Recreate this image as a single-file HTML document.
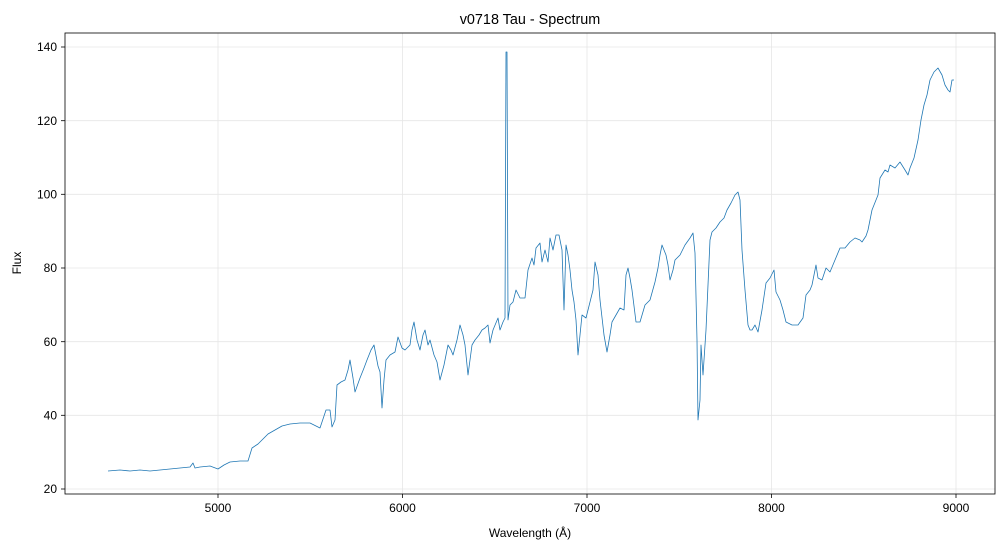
<!DOCTYPE html>
<html><head><meta charset="utf-8"><style>body{margin:0;background:#fff}svg{display:block}text{font-family:"Liberation Sans","DejaVu Sans",sans-serif;fill:#000}</style></head><body>
<svg width="1005" height="549" viewBox="0 0 1005 549" xmlns="http://www.w3.org/2000/svg">
<rect width="1005" height="549" fill="#fff"/>
<g stroke="#e6e6e6" stroke-width="0.8">
<line x1="218" y1="33" x2="218" y2="494"/><line x1="402.5" y1="33" x2="402.5" y2="494"/><line x1="587" y1="33" x2="587" y2="494"/><line x1="771.5" y1="33" x2="771.5" y2="494"/><line x1="956" y1="33" x2="956" y2="494"/>
<line x1="65" y1="489" x2="995" y2="489"/><line x1="65" y1="415.3" x2="995" y2="415.3"/><line x1="65" y1="341.7" x2="995" y2="341.7"/><line x1="65" y1="268" x2="995" y2="268"/><line x1="65" y1="194.3" x2="995" y2="194.3"/><line x1="65" y1="120.7" x2="995" y2="120.7"/><line x1="65" y1="47" x2="995" y2="47"/>
</g>
<polyline fill="none" stroke="#1f77b4" stroke-width="0.8" stroke-linejoin="round" points="108,471 120,470 130,471 140,470 150,471 160,470 170,469 180,468 190,467 193,463 195,468 200,467 210,466 218,469 224,465 230,462 240,461 248,461 252,448 258,444 262,440 268,434 275,430 282,426 290,424 300,423 310,423 316,426 320,428 326,410 330,410 332,427 335,420 337,385 341,382 345,380 348,370 350,360 353,378 355,392 360,378 364,368 367,360 371,350 374,345 378,366 380,372 382,408 384,380 386,360 390,355 395,352 398,337 402,348 405,350 410,345 412,330 414,322 417,340 420,350 423,335 425,330 428,345 430,340 434,355 437,362 440,380 444,365 448,345 451,350 453,355 457,340 460,325 463,335 465,345 468,375 470,360 472,345 475,340 479,335 482,330 485,328 488,325 490,343 493,330 498,318 500,330 503,322 505,318 506,52 507,52 508,320 510,305 513,302 516,290 520,298 525,298 528,270 532,258 534,265 536,248 540,243 542,262 545,250 548,262 550,238 553,250 556,235 559,235 562,250 564,310 566,245 568,255 570,270 572,290 574,302 576,320 578,355 580,335 582,315 586,318 590,302 593,290 595,262 598,275 600,300 604,335 607,352 610,335 612,322 616,315 620,308 624,310 626,275 628,268 630,278 632,290 636,322 640,322 645,305 650,300 655,282 658,268 660,255 662,245 666,255 668,265 670,280 673,270 675,260 680,255 685,245 690,238 693,233 695,253 697,340 698,420 700,400 701,345 703,375 706,330 710,240 712,232 716,228 720,222 724,218 727,210 731,203 735,195 738,192 740,200 742,250 745,290 748,325 750,330 752,330 755,325 758,332 762,310 766,283 770,278 774,270 776,292 780,300 783,310 786,322 792,325 798,325 803,318 806,295 810,290 812,285 816,265 818,278 822,280 826,268 830,272 835,260 840,248 845,248 850,242 855,238 860,240 862,242 866,236 868,230 872,210 876,200 878,195 880,178 885,170 888,172 890,165 895,168 900,162 905,170 908,175 910,168 914,158 918,140 921,120 924,105 927,95 930,80 934,72 938,68 942,75 945,85 948,90 950,92 952,80 954,80"/>
<rect x="65" y="33" width="930" height="461" fill="none" stroke="#000" stroke-width="0.8"/>
<g stroke="#000" stroke-width="0.8">
<line x1="218" y1="494" x2="218" y2="498"/><line x1="402.5" y1="494" x2="402.5" y2="498"/><line x1="587" y1="494" x2="587" y2="498"/><line x1="771.5" y1="494" x2="771.5" y2="498"/><line x1="956" y1="494" x2="956" y2="498"/>
<line x1="61" y1="489" x2="65" y2="489"/><line x1="61" y1="415.3" x2="65" y2="415.3"/><line x1="61" y1="341.7" x2="65" y2="341.7"/><line x1="61" y1="268" x2="65" y2="268"/><line x1="61" y1="194.3" x2="65" y2="194.3"/><line x1="61" y1="120.7" x2="65" y2="120.7"/><line x1="61" y1="47" x2="65" y2="47"/>
</g>
<g font-size="12" text-anchor="middle">
<text x="218" y="512">5000</text><text x="402.5" y="512">6000</text><text x="587" y="512">7000</text><text x="771.5" y="512">8000</text><text x="956" y="512">9000</text>
</g>
<g font-size="12" text-anchor="end">
<text x="57" y="493">20</text><text x="57" y="419.5">40</text><text x="57" y="346">60</text><text x="57" y="272">80</text><text x="57" y="198.5">100</text><text x="57" y="125">120</text><text x="57" y="51">140</text>
</g>
<text x="530" y="537" font-size="12" text-anchor="middle">Wavelength (Å)</text>
<text x="21" y="263" font-size="12" text-anchor="middle" transform="rotate(-90 21 263)">Flux</text>
<text x="530" y="24" font-size="14.4" text-anchor="middle">v0718 Tau - Spectrum</text>
</svg>
</body></html>
